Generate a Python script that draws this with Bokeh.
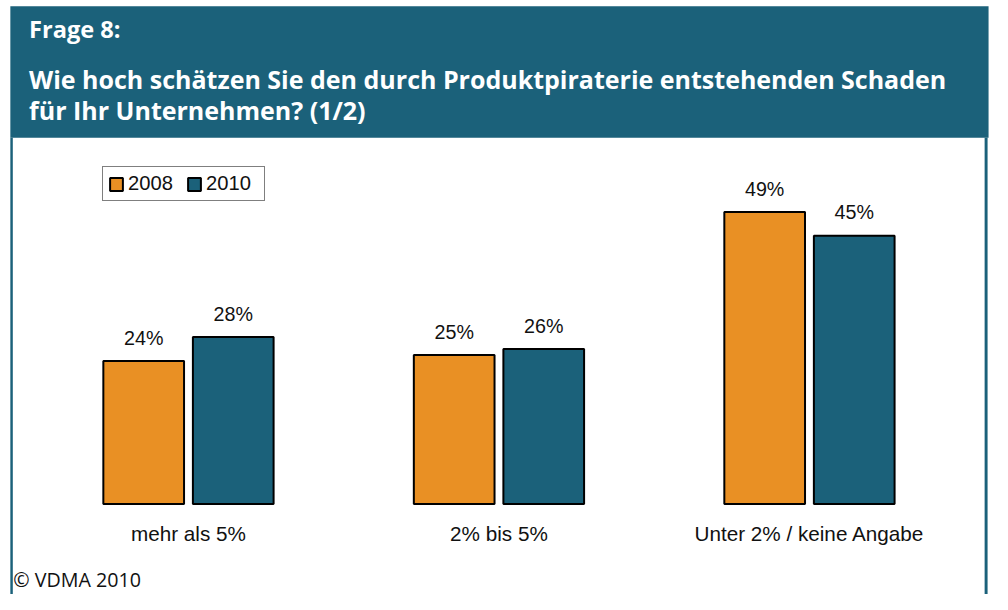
from bokeh.plotting import figure
from bokeh.models import ColumnDataSource, Range1d, Legend, LegendItem
from bokeh.transform import dodge
from bokeh.core.properties import value
from bokeh.embed import file_html
from bokeh.resources import INLINE

# ---- data ----
categories = ["mehr als 5%", "2% bis 5%", "Unter 2% / keine Angabe"]
years = ["2008", "2010"]
values_2008 = [24, 25, 49]
values_2010 = [28, 26, 45]
kicker = "Frage 8:"
title_lines = ["Wie hoch schätzen Sie den durch Produktpiraterie entstehenden Schaden",
               "für Ihr Unternehmen? (1/2)"]
source_note = "© VDMA 2010"

# ---- layout / style ----
REF_W, REF_H = 1008, 610
W, H = 992, 594
SX, SY = W / REF_W, H / REF_H
PX_PER_PCT = 6.12     # reference px per percent
BASE_Y = 517          # reference row of the bar baseline
GROUP_STEP = 315.5    # reference px between group centres
FIRST_X = 191         # reference column of first group centre
ORANGE = "#E99024"
BLUE = "#1B617A"


def xdat(X):
    return (X - FIRST_X) / GROUP_STEP


def ydat(Y):
    return (BASE_Y - Y) / PX_PER_PCT


def fs(px):
    return f"{px * SX:.1f}px"


p = figure(width=W, height=H, output_backend="svg", toolbar_location=None,
           x_range=Range1d(xdat(0), xdat(REF_W)), y_range=Range1d(ydat(REF_H), ydat(0)),
           x_axis_location=None, y_axis_location=None, min_border=0,
           outline_line_color=None, background_fill_color="white", border_fill_color="white")
p.xgrid.visible = False
p.ygrid.visible = False

# header and frame
p.quad(left=[xdat(10)], right=[xdat(1004)], top=[ydat(6)], bottom=[ydat(141)],
       fill_color=BLUE, line_color=None)
p.quad(left=[xdat(10), xdat(1000)], right=[xdat(12.5), xdat(1003)],
       top=[ydat(141), ydat(141)], bottom=[ydat(620), ydat(620)],
       fill_color=BLUE, line_color=None)

p.text(x=[xdat(29)], y=[ydat(29.7)], text=[kicker], text_color="white",
       text_font=value("Open Sans"), text_font_style="bold", text_font_size=fs(24),
       text_baseline="middle", text_align="left")
p.text(x=[xdat(29), xdat(29)], y=[ydat(80.8), ydat(112.8)], text=title_lines, text_color="white",
       text_font=value("Open Sans"), text_font_style="bold", text_font_size=fs(25.4),
       text_baseline="middle", text_align="left")

# bars
src = ColumnDataSource(dict(
    idx=list(range(len(categories))), cat=categories,
    v08=values_2008, v10=values_2010,
    l08=[f"{v}%" for v in values_2008], l10=[f"{v}%" for v in values_2010],
))
OFF = 45.5 / GROUP_STEP
BW = 82 / GROUP_STEP
r08 = p.vbar(x=dodge("idx", -OFF), top="v08", bottom=0, width=BW, source=src,
             fill_color=ORANGE, line_color="black", line_width=2)
r10 = p.vbar(x=dodge("idx", OFF), top="v10", bottom=0, width=BW, source=src,
             fill_color=BLUE, line_color="black", line_width=2)

for col, lab, dx in (("v08", "l08", -OFF), ("v10", "l10", OFF)):
    p.text(x=dodge("idx", dx), y=col, text=lab, source=src, y_offset=-24 * SY,
           text_font=value("Liberation Sans"), text_font_size=fs(20), text_color="#111111",
           text_align="center", text_baseline="middle")

p.text(x="idx", y=0, text="cat", source=src, y_offset=30.5 * SY,
       text_font=value("Liberation Sans"), text_font_size=fs(21), text_color="#111111",
       text_align="center", text_baseline="middle")

p.text(x=[xdat(13)], y=[ydat(595)], text=[source_note], text_color="#111111",
       text_font=value("Open Sans"), text_font_size=fs(20),
       text_baseline="middle", text_align="left")

legend = Legend(items=[LegendItem(label=years[0], renderers=[r08]),
                       LegendItem(label=years[1], renderers=[r10])],
                location=(round(104 * SX), round(H - 206 * SY)), orientation="horizontal",
                border_line_color="black", border_line_width=1, background_fill_alpha=1,
                label_text_font="Liberation Sans", label_text_font_size=fs(20.5),
                label_text_color="#111111",
                glyph_width=16, glyph_height=16, padding=5, spacing=5, label_width=53,
                label_standoff=4, margin=0)
p.add_layout(legend)

open("out.html", "w").write(file_html(p, INLINE))
